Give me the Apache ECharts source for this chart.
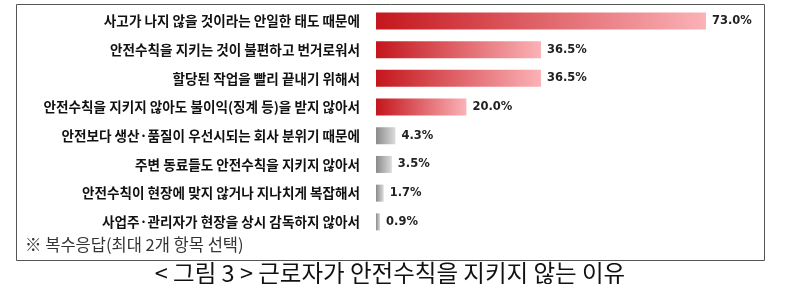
<!DOCTYPE html>
<html>
<head>
<meta charset="utf-8">
<script src="https://cdn.jsdelivr.net/npm/echarts@6/dist/echarts.min.js"></script>
<style>
html,body{margin:0;padding:0;background:#fff;}
#c{width:800px;height:284px;}
</style>
</head>
<body>
<div id="c"></div>
<script>
const categories = [
  '사고가 나지 않을 것이라는 안일한 태도 때문에',
  '안전수칙을 지키는 것이 불편하고 번거로워서',
  '할당된 작업을 빨리 끝내기 위해서',
  '안전수칙을 지키지 않아도 불이익(징계 등)을 받지 않아서',
  '안전보다 생산·품질이 우선시되는 회사 분위기 때문에',
  '주변 동료들도 안전수칙을 지키지 않아서',
  '안전수칙이 현장에 맞지 않거나 지나치게 복잡해서',
  '사업주·관리자가 현장을 상시 감독하지 않아서'
];
const values = [73.0, 36.5, 36.5, 20.0, 4.3, 3.5, 1.7, 0.9];
const footnote = '※ 복수응답(최대 2개 항목 선택)';
const caption = '< 그림 3 > 근로자가 안전수칙을 지키지 않는 이유';

const chart = echarts.init(document.getElementById('c'), null, {renderer: 'canvas'});
function grad(a, b) {
  return new echarts.graphic.LinearGradient(0, 0, 1, 0, [
    {offset: 0, color: a}, {offset: 1, color: b}
  ]);
}
const seriesData = values.map((v, i) => ({
  value: v,
  itemStyle: {color: i < 4 ? grad('#c4161c', '#fbb2b7') : grad('#8a8a8a', '#dcdcdc')}
}));
chart.setOption({
  animation: false,
  grid: {left: 376, top: 6.6, right: 62.4, bottom: 47.8, containLabel: false},
  xAxis: {type: 'value', min: 0, max: 80, show: false},
  yAxis: {
    type: 'category', data: categories, inverse: true,
    axisLine: {show: false}, axisTick: {show: false}, splitLine: {show: false},
    axisLabel: {
      margin: 16, color: '#111', fontSize: 13.6, fontWeight: 'bold',
      fontFamily: '"Noto Sans CJK KR", sans-serif'
    }
  },
  series: [{
    type: 'bar', data: seriesData, barWidth: 17,
    label: {
      show: true, position: 'right', distance: 6,
      formatter: p => p.value.toFixed(1) + '%',
      color: '#222', fontSize: 11.5, fontWeight: 'bold',
      fontFamily: '"DejaVu Sans", sans-serif'
    }
  }],
  graphic: [
    {type: 'rect', shape: {x: 16.5, y: 4.5, width: 748, height: 256},
     style: {fill: 'none', stroke: '#555', lineWidth: 1}, z: -1},
    {type: 'text', left: 25, top: 236,
     style: {text: footnote, fontSize: 16.5, fill: '#333', fontFamily: '"Noto Sans CJK KR", sans-serif'}},
    {type: 'text', x: 390, y: 273,
     style: {text: caption, fontSize: 23.5, fill: '#111', textAlign: 'center', textVerticalAlign: 'middle',
             fontFamily: '"Noto Sans CJK KR", sans-serif'}}
  ]
});
</script>
</body>
</html>
